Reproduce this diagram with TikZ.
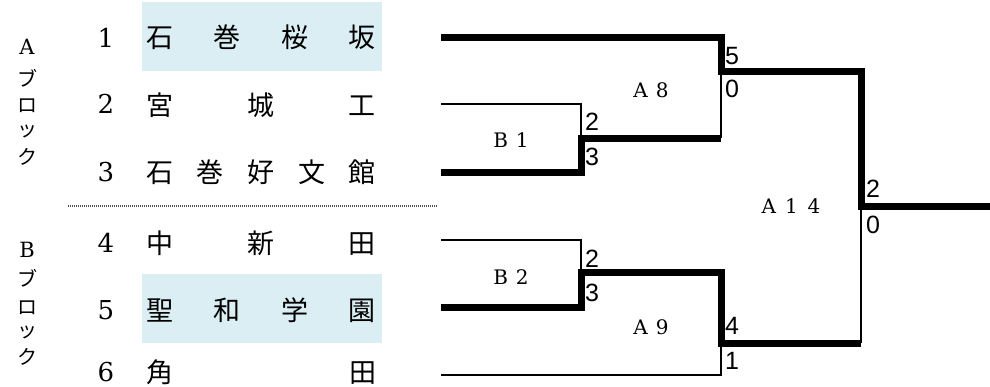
\documentclass[tikz,border=0pt]{standalone}
\usepackage{fontspec}
\newfontfamily\jp{Noto Sans CJK JP}
\newfontfamily\scorefont{Liberation Sans}
\newfontfamily\dserif{DejaVu Serif}
\definecolor{hl}{HTML}{DAEEF3}
\begin{document}
\begin{tikzpicture}[x=1pt,y=-1pt,
  win/.style={line width=7pt,line join=miter},
  lose/.style={line width=2.5pt,line join=miter},
  blk/.style={inner sep=0pt,font=\jp\fontsize{20}{20}\selectfont},
  blkl/.style={inner sep=0pt,font=\dserif\fontsize{21}{21}\selectfont},
  num/.style={inner sep=0pt,font=\dserif\fontsize{26}{26}\selectfont},
  team/.style={inner sep=0pt,text width=230pt,font=\jp\fontsize{27}{27}\selectfont},
  score/.style={inner sep=0pt,anchor=west,font=\scorefont\fontsize{25}{25}\selectfont},
  match/.style={inner sep=0pt,font=\dserif\fontsize{20}{20}\selectfont},
  hlbox/.style={fill=hl,draw=none}]
\useasboundingbox (0,0) rectangle (990,386);
% highlight boxes
\fill[hlbox] (142,2) rectangle (382,71);
\fill[hlbox] (142,274) rectangle (382,343);
% block labels
\node[blkl] (bA) at (27,47) {A};
\node[blk] (bA1) at (27,78) {ブ};
\node[blk] (bA2) at (27,106) {ロ};
\node[blk] (bA3) at (27,131) {ッ};
\node[blk] (bA4) at (27,157) {ク};
\node[blkl] (bB) at (27,250) {B};
\node[blk] (bB1) at (27,278) {ブ};
\node[blk] (bB2) at (27,308) {ロ};
\node[blk] (bB3) at (27,332) {ッ};
\node[blk] (bB4) at (27,357) {ク};
% numbers
\node[num] (n1) at (106,38) {1};
\node[num] (n2) at (106,104) {2};
\node[num] (n3) at (106,172) {3};
\node[num] (n4) at (106,243) {4};
\node[num] (n5) at (106,310) {5};
\node[num] (n6) at (106,372) {6};
% teams
\node[team] (s1) at (261,37) {石\hfill 巻\hfill 桜\hfill 坂};
\node[team] (s2) at (261,105) {宮\hfill 城\hfill 工};
\node[team] (s3) at (261,172) {石\hfill 巻\hfill 好\hfill 文\hfill 館};
\node[team] (s4) at (261,243) {中\hfill 新\hfill 田};
\node[team] (s5) at (261,310) {聖\hfill 和\hfill 学\hfill 園};
\node[team] (s6) at (261,372) {角\hfill 田};
% dotted separator
\coordinate (d1) at (68,206);
\coordinate (d2) at (437,206);
\draw[line width=1.2pt,dash pattern=on 1pt off 1pt,black!70] (d1) -- (d2);
% bracket coordinates
\coordinate (t1) at (441,37);
\coordinate (t2) at (441,104);
\coordinate (t3) at (441,172);
\coordinate (t4) at (441,240);
\coordinate (t5) at (441,307);
\coordinate (t6) at (441,375);
\coordinate (B1) at (581,138);
\coordinate (B2) at (581,272);
\coordinate (A8) at (721,71);
\coordinate (A9) at (721,343);
\coordinate (A14) at (861,206);
\coordinate (out) at (990,206);
% losers
\draw[lose] (t2) -| (B1);
\draw[lose] (t4) -| (B2);
\draw[lose] (t6) -| (A9);
\draw[lose] (B1 -| A8) -- (A8);
\draw[lose] (A9 -| A14) -- (A14);
% winners
\draw[win] (t1) -| (A8) -| (A14) -- (out);
\draw[win] (t3) -| (B1) -- (B1 -| A8);
\draw[win] (t5) -| (B2) -| (A9) -- (A9 -| A14);
% scores
\node[score] (sc1) at (725,56) {5};
\node[score] (sc2) at (725,89) {0};
\node[score] (sc3) at (585,122) {2};
\node[score] (sc4) at (585,157) {3};
\node[score] (sc5) at (585,259) {2};
\node[score] (sc6) at (585,293) {3};
\node[score] (sc7) at (725,326) {4};
\node[score] (sc8) at (725,361) {1};
\node[score] (sc9) at (866,189) {2};
\node[score] (sc10) at (866,225) {0};
% match labels
\node[match] (mA8) at (651,90) {A\hspace{8pt}8};
\node[match] (mB1) at (511,140) {B\hspace{8pt}1};
\node[match] (mB2) at (511,277) {B\hspace{8pt}2};
\node[match] (mA9) at (651,327) {A\hspace{8pt}9};
\node[match] (mA14) at (791,206) {A\hspace{9pt}1\hspace{10pt}4};
\end{tikzpicture}
\end{document}
